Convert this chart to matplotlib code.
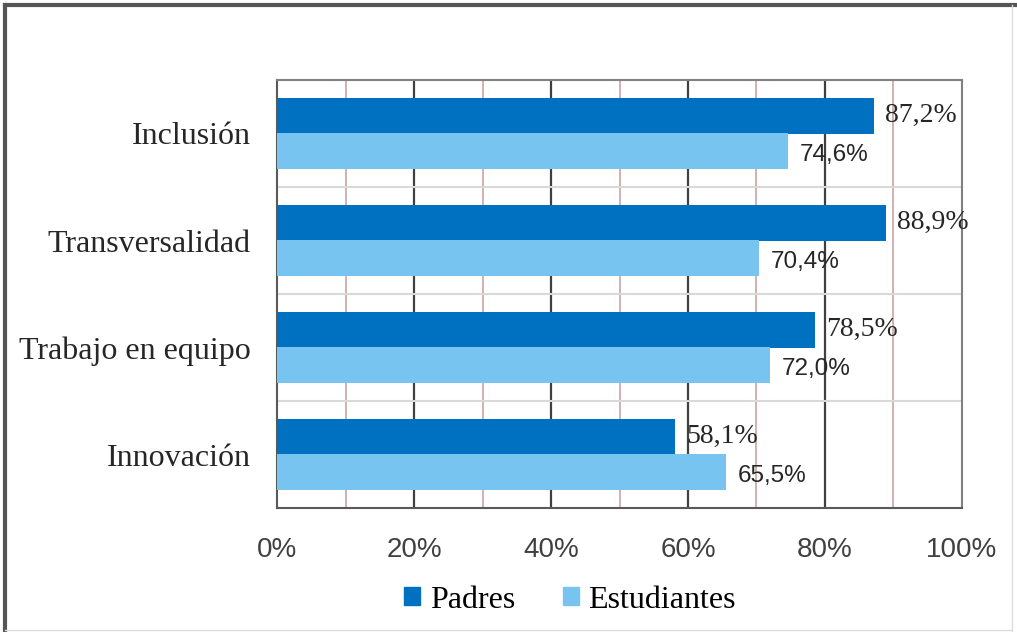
import numpy as np
import matplotlib
matplotlib.use('Agg')
from matplotlib import pyplot as plt
from matplotlib.lines import Line2D
from matplotlib.patches import Patch

# data
categorias = ['Inclusión', 'Transversalidad', 'Trabajo en equipo', 'Innovación']
padres = [87.2, 88.9, 78.5, 58.1]
estudiantes = [74.6, 70.4, 72.0, 65.5]
xticks = [0, 20, 40, 60, 80, 100]

c_padres = '#0070C0'
c_estud = '#78C4F1'
serif = ['Liberation Serif', 'DejaVu Serif']
sans = ['Liberation Sans', 'DejaVu Sans']

fig = plt.figure(figsize=(10.17, 6.32), dpi=100)
ax = fig.add_axes([277/1017, 1-508/632, (962-277)/1017, (508-80)/632])

n = len(categorias)
y = np.arange(n)[::-1]   # first category on top
h = 0.33

ax.barh(y + h/2, padres, height=h, color=c_padres, zorder=3)
ax.barh(y - h/2, estudiantes, height=h, color=c_estud, zorder=3)

for yi, v in zip(y, padres):
    ax.text(v + 1.6, yi + h/2, ('%.1f%%' % v).replace('.', ','), va='center', ha='left',
            family=serif, fontsize=20, color='#262626', zorder=4)
for yi, v in zip(y, estudiantes):
    ax.text(v + 1.7, yi - h/2 - 0.04, ('%.1f%%' % v).replace('.', ','), va='center', ha='left',
            family=sans, fontsize=17.5, color='#262626', zorder=4)

ax.set_xlim(0, 100)
ax.set_ylim(-0.5, n - 0.5)

# vertical grid: dark every 20, rosy every 10
for xv in range(10, 100, 10):
    if xv % 20 == 0:
        ax.axvline(xv, color='#404040', lw=1.6, zorder=1)
    else:
        ax.axvline(xv, color='#C9A3A3', lw=1.2, zorder=1)
# separators between categories
for yv in np.arange(0.5, n - 0.5, 1):
    ax.axhline(yv, color='#D9D9D9', lw=1.5, zorder=1)

ax.set_xticks(xticks)
ax.set_xticklabels(['%d%%' % t for t in xticks], family=sans, fontsize=20, color='#404040')
ax.set_yticks(y)
ax.set_yticklabels(categorias, family=serif, fontsize=23, color='#262626')
ax.tick_params(axis='x', length=0, pad=21)
ax.tick_params(axis='y', length=0, pad=19)

for s in ['left', 'bottom']:
    ax.spines[s].set_color('#595959')
    ax.spines[s].set_linewidth(1.5)
for s in ['top', 'right']:
    ax.spines[s].set_color('#808080')
    ax.spines[s].set_linewidth(1.5)

handles = [Patch(color=c_padres, label='Padres'), Patch(color=c_estud, label='Estudiantes')]
fig.legend(handles=handles, loc='center', bbox_to_anchor=(570/1017, 1-600/632), ncol=2,
           frameon=False, prop={'family': serif, 'size': 23}, handlelength=0.5,
           handleheight=0.5, handletextpad=0.3, columnspacing=1.5)

# outer frame of the picture
fig.add_artist(Line2D([5/1017, 5/1017], [0, 1-5/632], transform=fig.transFigure, color='#555555', lw=3))
fig.add_artist(Line2D([5/1017, 1], [1-5/632, 1-5/632], transform=fig.transFigure, color='#555555', lw=3))
fig.add_artist(Line2D([1012/1017, 1012/1017], [0, 1-5/632], transform=fig.transFigure, color='#DDDDDD', lw=1))
fig.add_artist(Line2D([5/1017, 1012/1017], [2/632, 2/632], transform=fig.transFigure, color='#DDDDDD', lw=1))

fig.savefig('out.png', dpi=100)
plt.close()
